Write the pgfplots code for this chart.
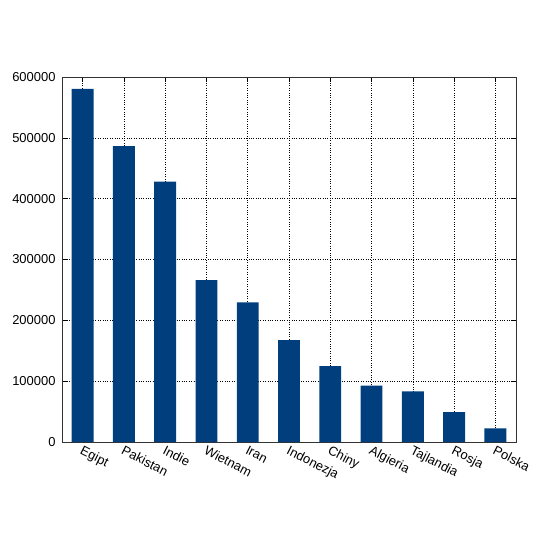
\documentclass[border=0pt]{standalone}
\usepackage{pgfplots}
\pgfplotsset{compat=1.18}
\usepackage{fontspec}
\setmainfont{Liberation Sans}
\definecolor{barblue}{RGB}{0,62,126}
\begin{document}
\begin{tikzpicture}
\fontsize{13}{15.5}\selectfont
\begin{axis}[
  scale only axis,
  width=454bp, height=365bp,
  ybar, bar width=0.53,
  xmin=-0.5, xmax=10.5,
  ymin=0, ymax=600000,
  ytick={0,100000,...,600000},
  xtick={0,...,10},
  xticklabels={Egipt,Pakistan,Indie,Wietnam,Iran,Indonezja,Chiny,Algieria,Tajlandia,Rosja,Polska},
  xticklabel style={rotate=-27, anchor=north west, xshift=-2bp, yshift=2bp},
  scaled y ticks=false,
  yticklabel style={/pgf/number format/fixed, /pgf/number format/1000 sep={}, xshift=-2bp},
  /pgf/number format/assume math mode=true,
  grid=major,
  major grid style={black, dotted, line width=0.6pt},
  tick align=inside,
  major tick length=5bp,
  tick style={black, line width=0.6pt},
  axis line style={black!80, line width=0.8pt},
]
\addplot[fill=barblue, draw=none] coordinates {
  (0,580500) (1,486500) (2,428000) (3,266000) (4,229700)
  (5,167500) (6,124900) (7,92500) (8,83300) (9,49300) (10,22500)
};
\end{axis}
\path (current axis.south west) ++(-62bp,-108bp) rectangle ++(550bp,550bp);
\end{tikzpicture}
\end{document}
